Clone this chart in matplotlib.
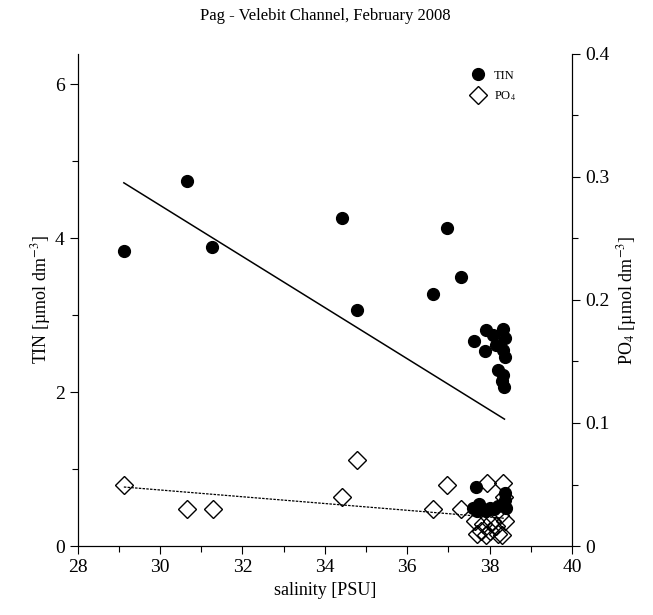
import matplotlib
matplotlib.use('Agg')
import matplotlib.pyplot as plt
from matplotlib.ticker import MultipleLocator

plt.rcParams['font.family'] = ['Liberation Serif', 'DejaVu Serif']
plt.rcParams['mathtext.fontset'] = 'stix'

# TIN (umol dm-3) vs salinity
tin_sal = [29.12, 30.65, 31.27, 34.41, 34.77, 36.62, 36.96, 37.30,
           37.90, 37.63, 37.89, 38.09, 38.33, 38.37, 38.15, 38.33, 38.37, 38.21, 38.33, 38.35, 38.30,
           37.68, 37.60, 37.70, 37.80, 37.90, 38.00, 38.10, 38.20, 38.37, 38.37, 38.40, 37.75]
tin_val = [3.84, 4.75, 3.88, 4.26, 3.07, 3.28, 4.13, 3.50,
           2.81, 2.67, 2.54, 2.74, 2.82, 2.70, 2.61, 2.55, 2.46, 2.29, 2.22, 2.07, 2.15,
           0.77, 0.50, 0.45, 0.50, 0.45, 0.50, 0.48, 0.52, 0.69, 0.60, 0.50, 0.55]

# PO4 (umol dm-3) vs salinity
po4_sal = [29.12, 30.65, 31.28, 34.42, 34.77, 36.62, 36.96, 37.30,
           37.93, 38.33, 38.35, 37.64, 38.37, 38.05, 37.70, 37.80, 37.90, 38.00, 38.20, 38.30,
           38.15, 37.85, 38.25]
po4_val = [0.050, 0.030, 0.030, 0.040, 0.070, 0.030, 0.050, 0.030,
           0.051, 0.051, 0.040, 0.020, 0.020, 0.020, 0.010, 0.012, 0.009, 0.012, 0.010, 0.009,
           0.016, 0.018, 0.025]

# fitted lines (end points)
tin_fit_x = [29.12, 38.36]
tin_fit_y = [4.72, 1.65]
po4_fit_x = [29.12, 38.36]
po4_fit_y = [0.048, 0.0226]

fig = plt.figure(figsize=(6.53, 6.15), dpi=100)
ax = fig.add_axes([0.119, 0.112, 0.757, 0.801])
ax2 = ax.twinx()

ax.plot(tin_fit_x, tin_fit_y, color='black', lw=1.1)
h1, = ax.plot(tin_sal, tin_val, 'o', color='black', ms=8.5, ls='none')
ax2.plot(po4_fit_x, po4_fit_y, color='black', lw=0.9, ls=(0, (2, 1)))
h2, = ax2.plot(po4_sal, po4_val, 'D', mfc='none', mec='black', mew=1.0, ms=9.5, ls='none')

ax.set_xlim(28, 40)
ax.set_ylim(0, 6.4)
ax2.set_ylim(0, 0.4)

ax.xaxis.set_major_locator(MultipleLocator(2))
ax.xaxis.set_minor_locator(MultipleLocator(1))
ax.yaxis.set_major_locator(MultipleLocator(2))
ax.yaxis.set_minor_locator(MultipleLocator(1))
ax2.yaxis.set_minor_locator(MultipleLocator(0.05))
ax2.set_yticks([0, 0.1, 0.2, 0.3, 0.4])
ax2.set_yticklabels(['0', '0.1', '0.2', '0.3', '0.4'])

for a in (ax, ax2):
    a.spines['top'].set_visible(False)
    a.tick_params(which='major', direction='out', length=6, width=0.8, labelsize=14)
    a.tick_params(which='minor', direction='out', length=4, width=0.8)

ax.set_xlabel('salinity [PSU]', fontsize=13)
ax.set_ylabel('TIN [µmol dm$^{-3}$]', fontsize=13, labelpad=1)
ax2.set_ylabel('PO$_4$ [µmol dm$^{-3}$]', fontsize=13)
ax.set_title('Pag - Velebit Channel, February 2008', fontsize=12, pad=24)

ax.legend([h1, h2], ['TIN', 'PO$_4$'], loc='upper right', bbox_to_anchor=(0.91, 0.99),
          frameon=False, fontsize=9, handletextpad=0.3, labelspacing=0.6)

fig.savefig('out.png', dpi=100)
